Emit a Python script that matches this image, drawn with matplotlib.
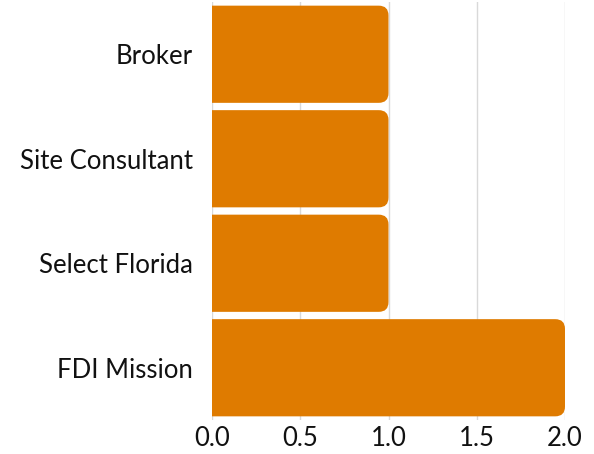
import matplotlib.pyplot as plt
from matplotlib.patches import FancyBboxPatch

categories = ['Broker', 'Site Consultant', 'Select Florida', 'FDI Mission']
values = [1, 1, 1, 2]
bar_color = '#DF7B00'

plt.rcParams['font.family'] = ['Lato', 'DejaVu Sans']

fig = plt.figure(figsize=(5.94, 4.54), dpi=100)
ax = fig.add_axes([212 / 594, 34 / 454, 353 / 594, 418 / 454])

ypos = list(range(len(categories)))[::-1]
bars = ax.barh(ypos, values, height=0.93, color=bar_color)

# swap the plain bars for ones with rounded right corners
rx = 0.055
aspect = (353 / 2.0) / (418 / 4.0)
for b in bars:
    x0, y0 = b.get_x(), b.get_y()
    w, h = b.get_width(), b.get_height()
    b.set_visible(False)
    patch = FancyBboxPatch((x0 - 0.2, y0), w + 0.2, h,
                           boxstyle=f'round,pad=0,rounding_size={rx}',
                           mutation_aspect=aspect,
                           facecolor=bar_color, edgecolor='none', zorder=2)
    ax.add_patch(patch)

ax.set_xlim(0, 2.0)
ax.set_ylim(-0.5, len(categories) - 0.5)
ax.set_xticks([0.0, 0.5, 1.0, 1.5, 2.0])
ax.set_xticklabels(['0.0', '0.5', '1.0', '1.5', '2.0'])
ax.set_yticks(ypos)
ax.set_yticklabels(categories)

ax.grid(axis='x', color='#d9d9d9', linewidth=1, zorder=0)
ax.set_axisbelow(True)
for s in ax.spines.values():
    s.set_visible(False)
ax.tick_params(axis='both', length=0, labelsize=18.5, colors='#111111')
ax.tick_params(axis='y', pad=14)
ax.tick_params(axis='x', pad=4)

plt.savefig('out.png', dpi=100)
